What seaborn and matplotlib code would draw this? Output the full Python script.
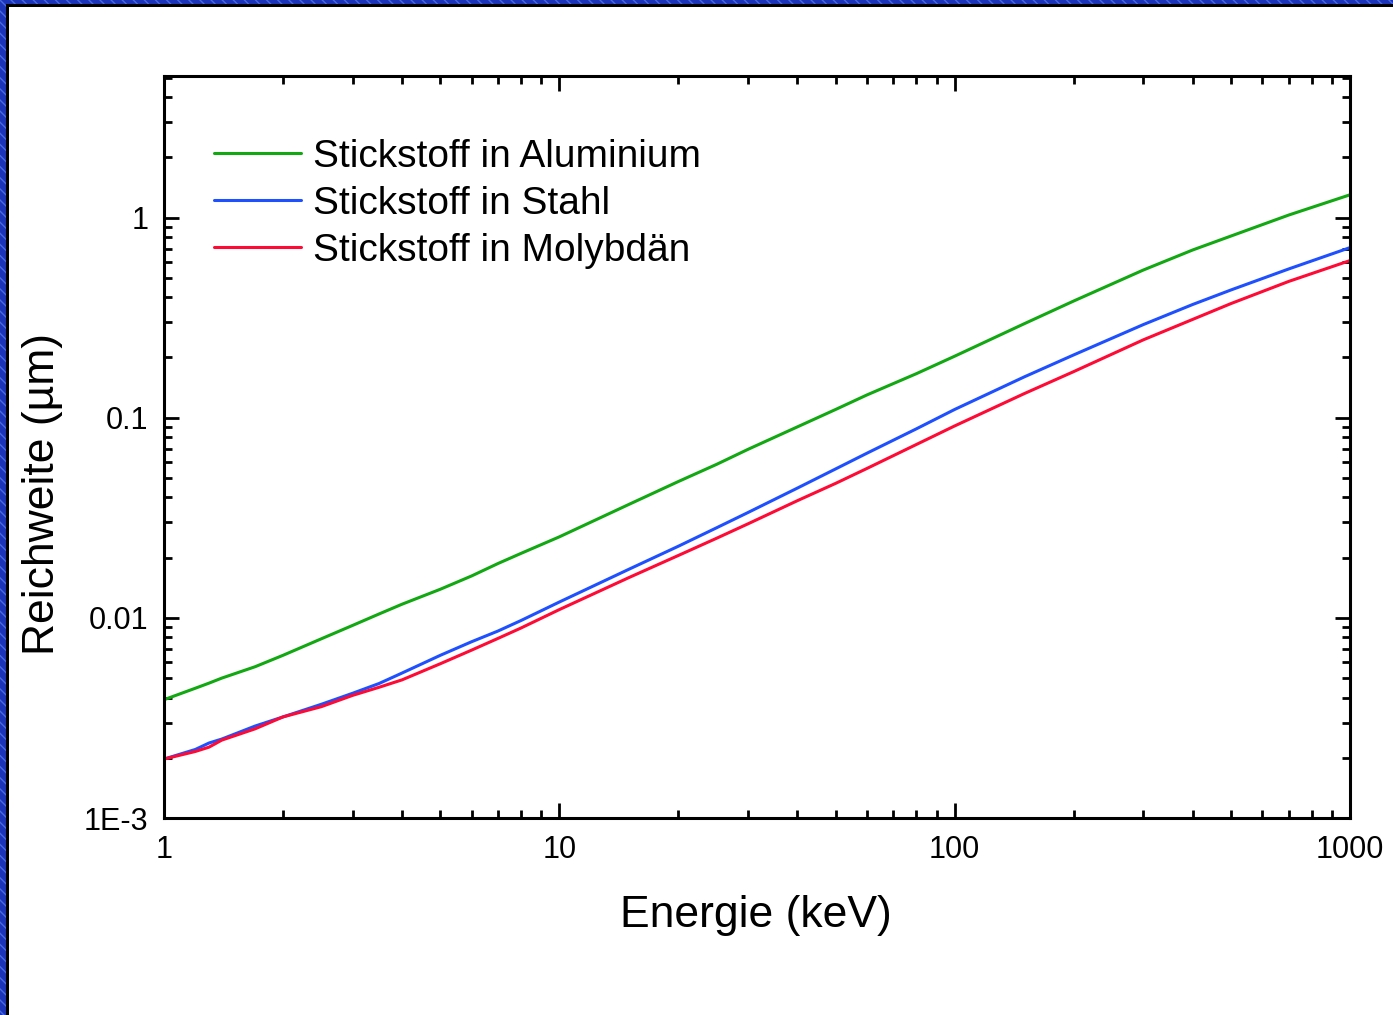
import numpy as np
import pandas as pd
import matplotlib
matplotlib.use("Agg")
import matplotlib.pyplot as plt
import matplotlib.ticker as mticker
from matplotlib.patches import Rectangle
import seaborn as sns

# ------------------- Daten -------------------
energie = [1, 1.2, 1.3, 1.4, 1.7, 2, 2.5, 3, 3.5, 4, 5, 6, 7, 8, 10, 15, 20, 25, 30,
           40, 50, 60, 80, 100, 150, 200, 300, 400, 500, 700, 1000]

aluminium = [0.0039, 0.00445, 0.00472, 0.0050, 0.0057, 0.0065, 0.00786, 0.00917, 0.01046, 0.0117,
             0.0139, 0.0162, 0.0187, 0.0210, 0.0254, 0.0369, 0.048, 0.0585, 0.0695, 0.090,
             0.110, 0.130, 0.166, 0.203, 0.295, 0.383, 0.547, 0.689, 0.809, 1.03, 1.30]

stahl = [0.00197, 0.0022, 0.00237, 0.00248, 0.00288, 0.0032, 0.0037, 0.0042, 0.0047, 0.0053,
         0.0065, 0.0076, 0.0086, 0.0097, 0.0120, 0.0175, 0.0228, 0.0282, 0.0336, 0.0445,
         0.0555, 0.0665, 0.088, 0.110, 0.160, 0.206, 0.292, 0.368, 0.435, 0.554, 0.708]

molybdaen = [0.00197, 0.00215, 0.00226, 0.00245, 0.00279, 0.0032, 0.0036, 0.0041, 0.0045, 0.0049,
             0.0059, 0.0069, 0.0079, 0.0089, 0.0110, 0.0159, 0.0205, 0.0250, 0.0295, 0.0385,
             0.0470, 0.0558, 0.0735, 0.091, 0.132, 0.17, 0.245, 0.31, 0.372, 0.48, 0.61]

serien = ["Stickstoff in Aluminium", "Stickstoff in Stahl", "Stickstoff in Molybdän"]
farben = ["#12A812", "#1E50FF", "#FF0A35"]

ytick_werte = [1e-3, 1e-2, 1e-1, 1]
ytick_labels = ["1E-3", "0.01", "0.1", "1"]
xtick_werte = [1, 10, 100, 1000]
xtick_labels = ["1", "10", "100", "1000"]

df = pd.DataFrame({
    "Energie": energie * 3,
    "Reichweite": aluminium + stahl + molybdaen,
    "Serie": [s for s in serien for _ in energie],
})

# ------------------- Plot -------------------
sns.set_style("ticks")
plt.rcParams["font.family"] = ["Liberation Sans", "DejaVu Sans"]
plt.rcParams["text.color"] = "black"
plt.rcParams["axes.labelcolor"] = "black"
plt.rcParams["xtick.color"] = "black"
plt.rcParams["ytick.color"] = "black"

fig = plt.figure(figsize=(13.93, 10.15), dpi=100)
ax = fig.add_axes([164 / 1393, 197 / 1015, 1186 / 1393, 742 / 1015])

for name, farbe in zip(serien, farben):
    sub = df[df["Serie"] == name]
    sns.lineplot(data=sub, x="Energie", y="Reichweite", color=farbe, label=name,
                 linewidth=2.2, ax=ax)

ax.set_xscale("log")
ax.set_yscale("log")
ax.set_xlim(1, 1000)
ax.set_ylim(1e-3, 5.1)

ax.xaxis.set_major_locator(mticker.FixedLocator(xtick_werte))
ax.xaxis.set_major_formatter(mticker.FixedFormatter(xtick_labels))
ax.yaxis.set_major_locator(mticker.FixedLocator(ytick_werte))
ax.yaxis.set_major_formatter(mticker.FixedFormatter(ytick_labels))
ax.xaxis.set_minor_locator(mticker.LogLocator(base=10, subs=np.arange(2, 10), numticks=20))
ax.yaxis.set_minor_locator(mticker.LogLocator(base=10, subs=np.arange(2, 10), numticks=20))
ax.xaxis.set_minor_formatter(mticker.NullFormatter())
ax.yaxis.set_minor_formatter(mticker.NullFormatter())

ax.tick_params(which="both", direction="in", top=True, right=True, color="black",
               labelcolor="black", width=2)
ax.tick_params(which="major", length=11, labelsize=22)
ax.tick_params(which="minor", length=5.5)
ax.tick_params(axis="x", which="major", pad=12)
ax.tick_params(axis="y", which="major", pad=11)
for sp in ax.spines.values():
    sp.set_linewidth(2.2)
    sp.set_color("black")

ax.set_xlabel("")
ax.set_ylabel("")
fig.text(756 / 1393, 1 - 915 / 1015, "Energie (keV)", fontsize=32, ha="center", va="center",
         color="black")
fig.text(43 / 1393, 1 - 494 / 1015, "Reichweite (µm)", fontsize=32, ha="center", va="center",
         rotation=90, color="black")

ax.legend(loc="upper left", bbox_to_anchor=(0.042, 0.9157), frameon=False, fontsize=28,
          handlelength=2.25, handletextpad=0.3, labelspacing=0.285, borderpad=0,
          borderaxespad=0)

# blauer Rahmen links und oben
fig.add_artist(Rectangle((0, 0), 6 / 1393, 1, transform=fig.transFigure, facecolor="#1C35B8",
                         edgecolor="#4A6AE0", hatch="\\\\\\", linewidth=0, zorder=10))
fig.add_artist(Rectangle((0, 1 - 4 / 1015), 1, 4 / 1015, transform=fig.transFigure,
                         facecolor="#1C35B8", edgecolor="#4A6AE0", hatch="\\\\\\", linewidth=0,
                         zorder=10))
fig.add_artist(Rectangle((6 / 1393, 0), 2.5 / 1393, 1 - 4 / 1015, transform=fig.transFigure,
                         facecolor="black", linewidth=0, zorder=10))
fig.add_artist(Rectangle((6 / 1393, 1 - 6.5 / 1015), 1, 2.5 / 1015, transform=fig.transFigure,
                         facecolor="black", linewidth=0, zorder=10))

fig.savefig("out.png", dpi=100)
